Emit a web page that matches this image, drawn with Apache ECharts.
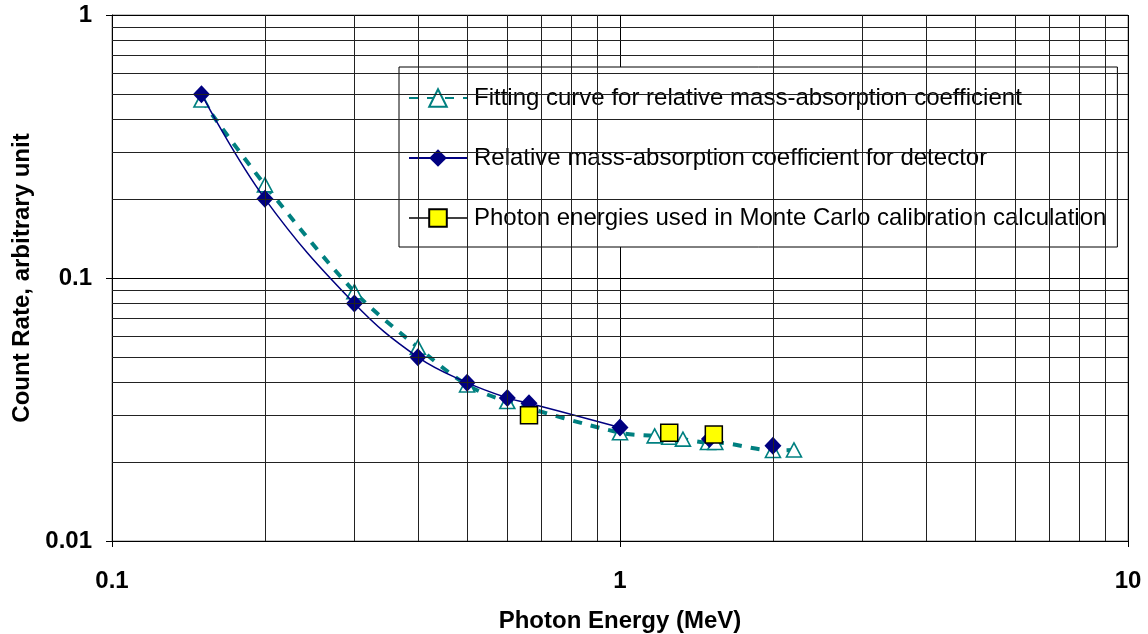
<!DOCTYPE html>
<html>
<head>
<meta charset="utf-8">
<script src="https://cdn.jsdelivr.net/npm/echarts@6/dist/echarts.min.js"></script>
<style>
  html, body { margin: 0; padding: 0; background: #fff; }
  #main { width: 1148px; height: 634px; }
</style>
</head>
<body>
<div id="main"></div>
<script>
// energies in MeV, count rate in arbitrary units
var fitX = [0.15, 0.2, 0.3, 0.4, 0.5, 0.6, 1.0, 1.17, 1.25, 1.33, 1.49, 1.54, 2.0, 2.2];
var fitY = [0.475, 0.226, 0.0887, 0.0545, 0.0392, 0.0339, 0.0258, 0.0251, 0.0248, 0.0244, 0.0237, 0.0237, 0.0221, 0.0222];

var relX = [0.15, 0.2, 0.3, 0.4, 0.5, 0.6, 0.662, 1.0];
var relY = [0.5, 0.2, 0.08, 0.05, 0.04, 0.035, 0.0334, 0.027];
// two more diamonds drawn without a connecting line
var relExtraX = [1.5, 2.0];
var relExtraY = [0.0244, 0.023];

var mcX = [0.662, 1.25, 1.53];
var mcY = [0.0301, 0.0258, 0.0254];

var seriesNames = [
    'Fitting curve for relative mass-absorption coefficient',
    'Relative mass-absorption coefficient for detector',
    'Photon energies used in Monte Carlo calibration calculation'
];

// minor grid lines
var xMinor = [0.2, 0.3, 0.4, 0.5, 0.6, 0.7, 0.8, 0.9, 2, 3, 4, 5, 6, 7, 8, 9];
var yMinor = [0.02, 0.03, 0.04, 0.05, 0.06, 0.07, 0.08, 0.09, 0.2, 0.3, 0.4, 0.5, 0.6, 0.7, 0.8, 0.9];

function pairs(xs, ys) {
    var out = [];
    for (var i = 0; i < xs.length; i++) out.push([xs[i], ys[i]]);
    return out;
}

var myChart = echarts.init(document.getElementById('main'));
var font = 'Liberation Sans, Arial, sans-serif';

var gridLines = [];
xMinor.forEach(function (v) { gridLines.push({ xAxis: v }); });
yMinor.forEach(function (v) { gridLines.push({ yAxis: v }); });

var option = {
    animation: false,
    textStyle: { fontFamily: font },
    grid: {
        left: 112, right: 20, top: 15, bottom: 93,
        outerBoundsMode: 'none',
        containLabel: false,
        show: true, borderColor: '#888', borderWidth: 1
    },
    legend: {
        orient: 'vertical',
        left: 399, top: 67,
        padding: [19, 11, 17, 9],
        itemWidth: 58, itemHeight: 22, itemGap: 36,
        backgroundColor: '#fff',
        borderColor: '#000', borderWidth: 1,
        selectedMode: false,
        textStyle: { fontSize: 24, color: '#000', fontFamily: font, padding: [0, 0, 0, 2] },
        data: [
            { name: seriesNames[0] },
            { name: seriesNames[1] },
            { name: seriesNames[2], lineStyle: { opacity: 1, color: '#000', width: 1.3 } }
        ]
    },
    xAxis: {
        type: 'log', logBase: 10, min: 0.1, max: 10,
        name: 'Photon Energy (MeV)', nameLocation: 'middle', nameGap: 68,
        nameTextStyle: { fontSize: 24, fontWeight: 'bold', color: '#000', fontFamily: font },
        axisLine: { show: true, lineStyle: { color: '#000', width: 1 } },
        axisTick: { show: true, inside: false, length: 6, lineStyle: { color: '#000' } },
        axisLabel: {
            margin: 28, fontSize: 24, fontWeight: 'bold', color: '#000', fontFamily: font,
            formatter: function (v) { return String(parseFloat(v.toPrecision(6))); }
        },
        splitLine: { show: true, lineStyle: { color: '#000', width: 1 } }
    },
    yAxis: {
        type: 'log', logBase: 10, min: 0.01, max: 1,
        name: 'Count Rate, arbitrary unit', nameLocation: 'middle', nameGap: 76, nameRotate: 90,
        nameTextStyle: { fontSize: 24, fontWeight: 'bold', color: '#000', fontFamily: font },
        axisLine: { show: true, lineStyle: { color: '#000', width: 1 } },
        axisTick: { show: true, inside: false, length: 6, lineStyle: { color: '#000' } },
        axisLabel: {
            margin: 20, fontSize: 24, fontWeight: 'bold', color: '#000', fontFamily: font,
            padding: [5, 0, 0, 0],
            formatter: function (v) { return String(parseFloat(v.toPrecision(6))); }
        },
        splitLine: { show: true, lineStyle: { color: '#000', width: 1 } }
    },
    series: [
        {
            name: 'grid',
            type: 'line',
            data: [],
            silent: true,
            z: 1,
            markLine: {
                silent: true,
                symbol: 'none',
                animation: false,
                label: { show: false },
                lineStyle: { color: '#222', width: 1, type: 'solid' },
                emphasis: { disabled: true },
                data: gridLines
            }
        },
        {
            name: seriesNames[0],
            type: 'line',
            z: 3,
            smooth: 0.3,
            data: pairs(fitX, fitY),
            symbol: 'triangle',
            symbolSize: [15, 14],
            lineStyle: { color: '#008080', width: 4, type: [9, 9] },
            itemStyle: { color: '#fff', borderColor: '#008080', borderWidth: 1.6 }
        },
        {
            name: seriesNames[1],
            type: 'line',
            z: 4,
            smooth: 0.4,
            data: pairs(relX, relY),
            symbol: 'diamond',
            symbolSize: [17, 18],
            lineStyle: { color: '#000080', width: 1.5 },
            itemStyle: { color: '#000080', borderWidth: 0 }
        },
        {
            name: 'relExtra',
            type: 'scatter',
            z: 4,
            data: pairs(relExtraX, relExtraY),
            symbol: 'diamond',
            symbolSize: [17, 18],
            itemStyle: { color: '#000080', opacity: 1 }
        },
        {
            name: seriesNames[2],
            type: 'line',
            z: 5,
            data: pairs(mcX, mcY),
            symbol: 'rect',
            symbolSize: 17,
            lineStyle: { color: '#000', width: 1.3, opacity: 0 },
            itemStyle: { color: '#ffff00', borderColor: '#000', borderWidth: 1.5 }
        }
    ]
};
option && myChart.setOption(option);
</script>
</body>
</html>
